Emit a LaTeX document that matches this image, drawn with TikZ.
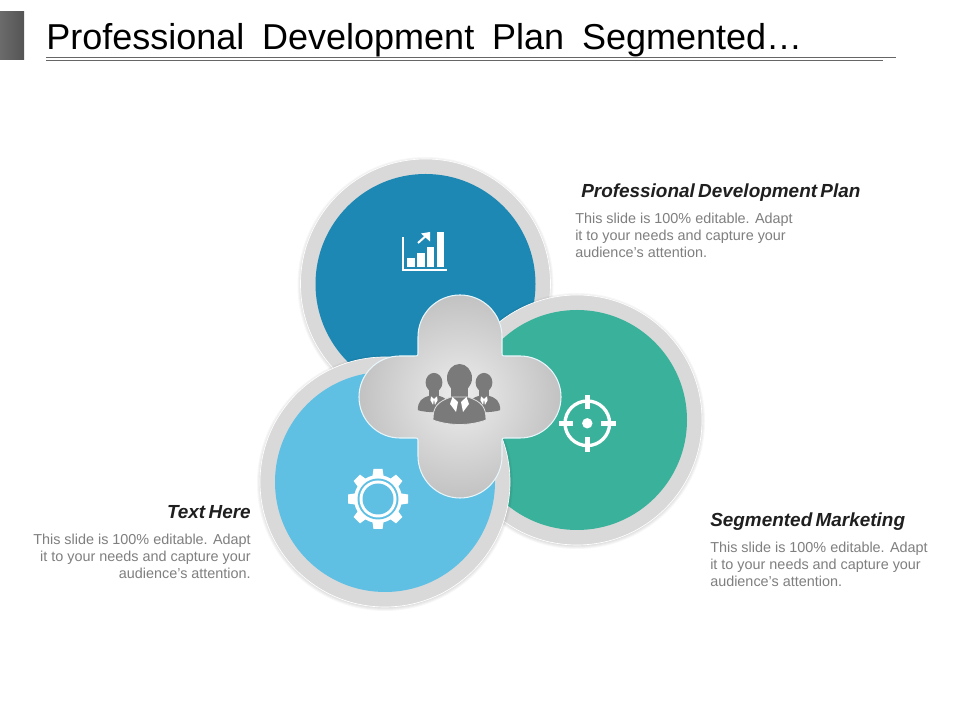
\documentclass[tikz,border=0pt]{standalone}
\usepackage{fontspec}
\setmainfont{Liberation Sans}
\definecolor{ringc}{HTML}{D9D9D9}
\definecolor{bluec}{HTML}{1D88B3}
\definecolor{greenc}{HTML}{3AB19B}
\definecolor{skyc}{HTML}{5FC0E4}
\definecolor{iconc}{HTML}{7A7A7A}
\definecolor{bodyc}{HTML}{7F7F7F}
\tikzset{
  x=.75pt,y=.75pt,
  head/.style={inner sep=0pt,font=\fontsize{14.2}{16}\selectfont\bfseries\itshape,text=black!88},
  bodytext/.style={inner sep=0pt,font=\fontsize{10.8}{13}\selectfont,text=bodyc},
  rule/.style={draw=black!60,line width=.8pt},
  ring/.style={fill=ringc,draw=white,line width=.5pt},
  icon/.style={fill=white,draw=none},
}
\newcommand{\tightsp}{\spaceskip=2.5pt }
\newcommand{\widesp}{\spaceskip=13.4pt }
\newcommand{\softshadow}[3]{%
  \foreach \k in {0,...,3}{\fill[black,opacity=.03] (#1,#2-1) circle[radius=#3+3-\k];}}
\newcommand{\person}[2]{%
  \begin{scope}[shift={(#1,#2)},xscale=.6,yscale=.66]
    \fill[iconc] (0,22) ellipse[x radius=14,y radius=14.5];
    \fill[iconc] (-8,11) -- (8,11) -- (8,0) -- (-8,0) -- cycle;
    \fill[iconc] (-27,-20) .. controls (-27,-6) and (-20,-1) .. (-7,2) -- (7,2)
       .. controls (20,-1) and (27,-6) .. (27,-20)
       .. controls (12,-24) and (-12,-24) .. (-27,-20) -- cycle;
    \fill[white] (-5,1) -- (0,-3) -- (-1.5,-12) -- (-6,-5) -- cycle;
    \fill[white] (5,1) -- (0,-3) -- (1.5,-12) -- (6,-5) -- cycle;
  \end{scope}}
\begin{document}
\begin{tikzpicture}
\useasboundingbox (0,0) rectangle (960,720);
\fill[white] (0,0) rectangle (960,720);
% header
\fill[left color=black!58,right color=black!67] (0,660) rectangle (24,708);
\draw[rule] (46,662.5) -- (896,662.5);
\draw[rule] (46,659.5) -- (883,659.5);
\node[anchor=base west,inner sep=0pt,font=\fontsize{27}{30}\selectfont,text=black] (title) at (46,670)
  {\widesp Professional Development Plan Segmented\ldots};
% blue
\softshadow{425.5}{436}{125}
\fill[ring] (425.5,436) circle[radius=125];
\fill[bluec] (425.5,436) circle[radius=110];
% green
\softshadow{577}{300}{125}
\fill[ring] (577,300) circle[radius=125];
\fill[greenc] (577,300) circle[radius=110];
% sky
\softshadow{385}{238}{125}
\fill[ring] (385,238) circle[radius=125];
\fill[skyc] (385,238) circle[radius=110];
% cross
\path[draw=white!85!skyc,line width=.8pt,shading=radial,inner color=black!7,outer color=black!24]
  (418,383) arc[start angle=180,end angle=0,radius=42]
  -- (502,368) .. controls (502,364) .. (506,364)
  -- (520,364) arc[start angle=90,end angle=-90,radius=41]
  -- (506,282) .. controls (502,282) .. (502,278)
  -- (502,264) arc[start angle=0,end angle=-180,radius=42]
  -- (418,278) .. controls (418,282) .. (414,282)
  -- (400,282) arc[start angle=270,end angle=90,radius=41]
  -- (414,364) .. controls (418,364) .. (418,368) -- cycle;
% people
\person{434}{323}
\person{484}{323}
\fill[iconc] (459.5,342) ellipse[x radius=12.5,y radius=14];
\fill[iconc] (451,335) rectangle (468,318);
\fill[iconc,draw=black!12,line width=.6pt] (433,300) .. controls (433,313) and (437,318) .. (451,323) -- (468,323)
   .. controls (482,318) and (486,313) .. (486,300)
   .. controls (470,294) and (449,294) .. (433,300) -- cycle;
\fill[white] (452.5,323) -- (458,318) -- (456,308) -- (450,316) -- cycle;
\fill[white] (466.5,323) -- (461,318) -- (463,308) -- (469,316) -- cycle;
% chart icon
\fill[icon] (402,483) rectangle (404,449);
\fill[icon] (402,449) rectangle (447,451);
\fill[icon] (407,453) rectangle (415,462);
\fill[icon] (417,453) rectangle (425,467);
\fill[icon] (427,453) rectangle (434,473);
\fill[icon] (437,453) rectangle (444,488);
\draw[white,line width=1.5pt] (418,477) -- (428,486);
\fill[icon] (430,488) -- (421,486.5) -- (430,478.5) -- cycle;
% gear icon
\begin{scope}[shift={(378,221)}]
\foreach \a in {0,45,...,315}{
  \fill[icon,rotate=\a] (-6,20) -- (-4.5,30) -- (4.5,30) -- (6,20) -- cycle;}
\fill[icon] (0,0) circle[radius=24];
\fill[skyc] (0,0) circle[radius=20.5];
\fill[icon] (0,0) circle[radius=18.5];
\fill[skyc] (0,0) circle[radius=15.5];
\end{scope}
% target icon
\begin{scope}[shift={(587.3,296.7)}]
\draw[white,line width=2.5pt] (0,0) circle[radius=22.3];
\fill[white] (0,0) circle[radius=5.2];
\foreach \a in {0,90,180,270}{
  \fill[icon,rotate=\a] (-2.3,14) rectangle (2.3,28.5);}
\end{scope}
% texts
\node[head,anchor=base west] (h1) at (581,522) {\tightsp Professional Development Plan};
\node[bodytext,anchor=north west,align=left] (b1) at (575,507.5)
  {This slide is 100\% editable. Adapt\\it to your needs and capture your\\audience's attention.};
\node[head,anchor=base west] (h2) at (710,193) {\tightsp Segmented Marketing};
\node[bodytext,anchor=north west,align=left] (b2) at (710,178.5)
  {This slide is 100\% editable. Adapt\\it to your needs and capture your\\audience's attention.};
\node[head,anchor=base east] (h3) at (251,201) {\tightsp Text Here};
\node[bodytext,anchor=north east,align=right] (b3) at (251,186.5)
  {This slide is 100\% editable. Adapt\\it to your needs and capture your\\audience's attention.};
\end{tikzpicture}
\end{document}
